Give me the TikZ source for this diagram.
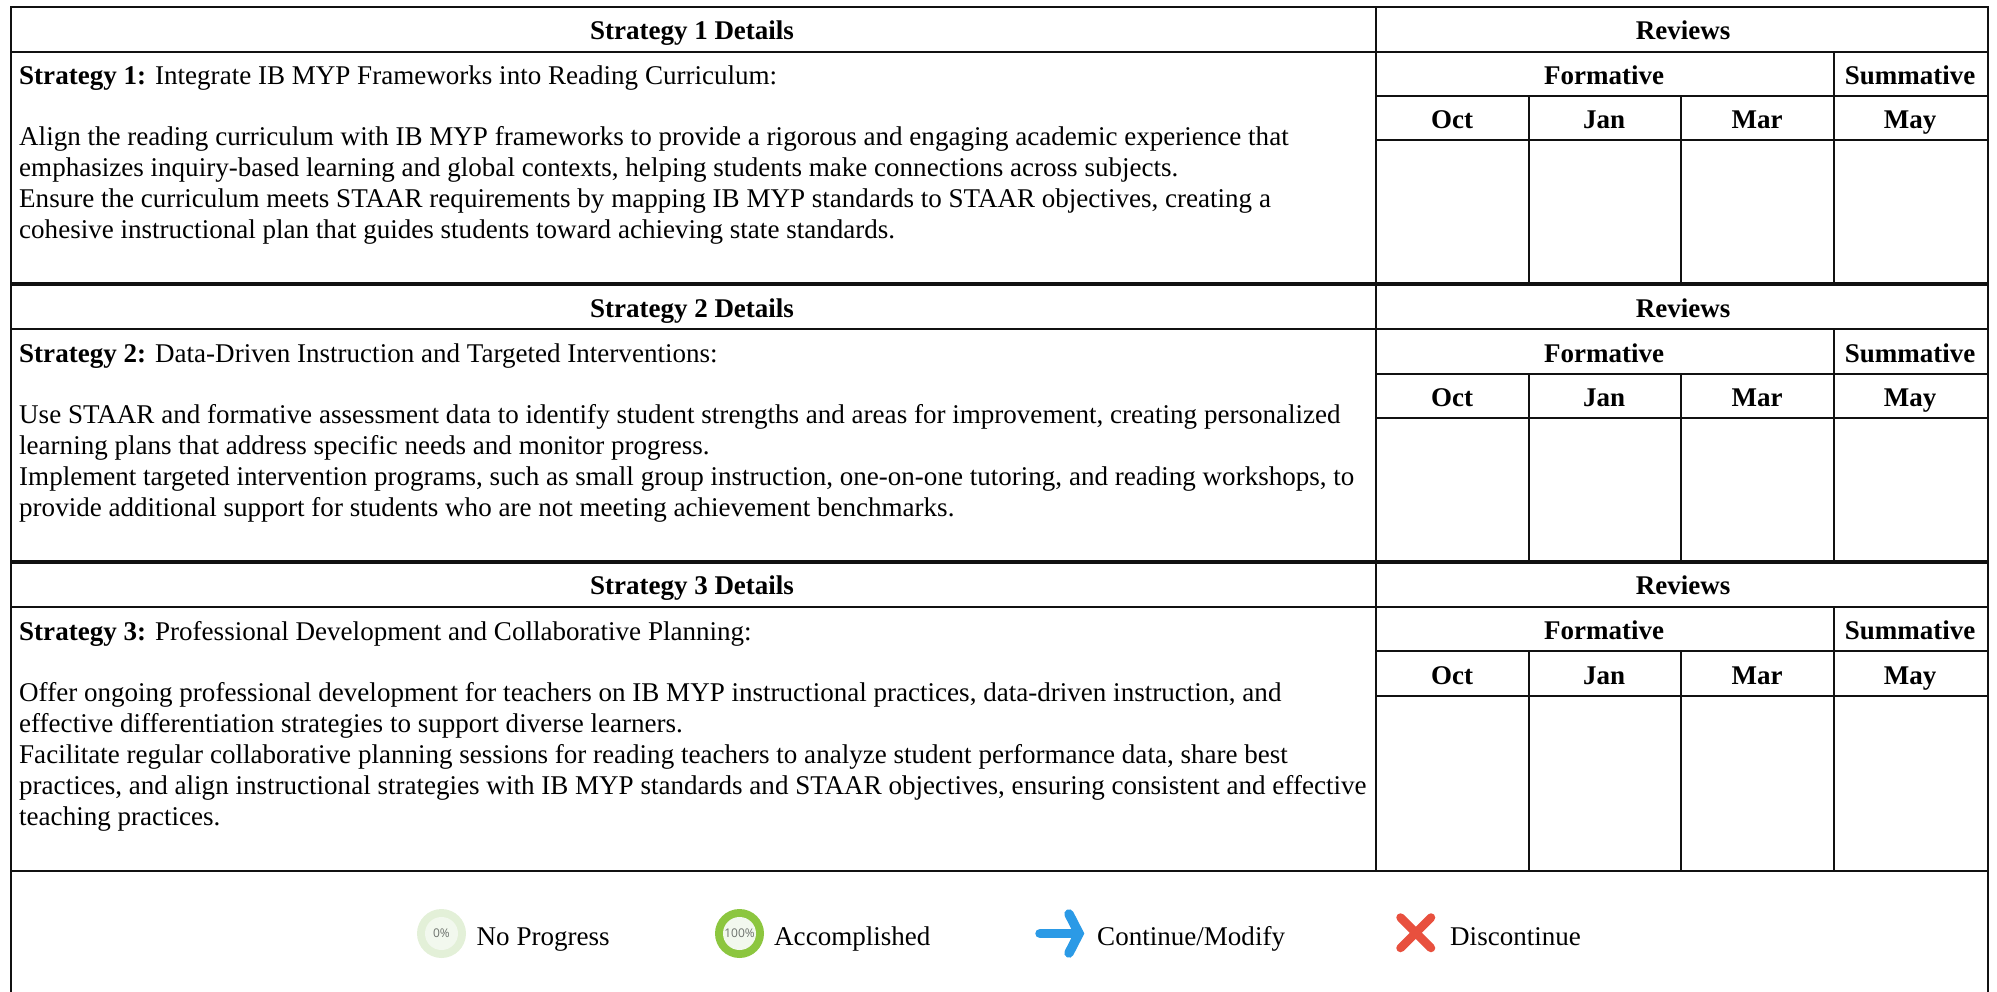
\documentclass[tikz,border=0pt]{standalone}
\usepackage{fontspec}
\setmainfont{Liberation Serif}
\newfontfamily\iconfont{Open Sans}
\definecolor{ruleblack}{HTML}{111111}
\definecolor{arrowblue}{HTML}{2B9AE6}
\definecolor{crossred}{HTML}{E8503E}
\definecolor{ringgreen}{HTML}{8CC63F}
\definecolor{ringpale}{HTML}{E3F0D8}
\definecolor{innerpale}{HTML}{F2F8EE}
\definecolor{icongrey}{HTML}{6E736E}
\tikzset{
  body/.style={anchor=base west,inner sep=0pt,font=\fontsize{27.05}{31}\selectfont},
  head/.style={anchor=base,inner sep=0pt,font=\fontsize{27}{31}\selectfont\bfseries},
  grid/.style={draw=ruleblack,line width=2pt},
  heavy/.style={draw=ruleblack,line width=4pt},
  pct/.style={inner sep=0pt,font=\iconfont\fontsize{12}{13}\selectfont,text=icongrey},
}
\begin{document}
\begin{tikzpicture}[x=1pt,y=-1pt]
\useasboundingbox (0,0) rectangle (1997,992);
% outer frame and legend separator
\draw[grid] (11,992) -- (11,7.5) -- (1988,7.5) -- (1988,992);
\draw[grid] (11,871) -- (1988,871);
% section rules and headers
\foreach \n/\o/\b in {1/0/284,2/277.5/284.5,3/555/316}{
  \begin{scope}[yshift=-\o pt]
  \draw[grid] (11,51.7) -- (1988,51.7);
  \draw[grid] (1376,96) -- (1988,96);
  \draw[grid] (1376,140.5) -- (1988,140.5);
  \draw[grid] (1376,7.5) -- (1376,\b);
  \draw[grid] (1834,51.7) -- (1834,\b);
  \draw[grid] (1528.5,96) -- (1528.5,\b);
  \draw[grid] (1681,96) -- (1681,\b);
  \node[head] (sd\n) at (692,39.5) {Strategy \n{} Details};
  \node[head] (rev\n) at (1683,39.5) {Reviews};
  \node[head] (form\n) at (1604,84.8) {Formative};
  \node[head] (summ\n) at (1910,84.8) {Summative};
  \node[head] (oct\n) at (1452,129) {Oct};
  \node[head] (jan\n) at (1604,129) {Jan};
  \node[head] (mar\n) at (1757,129) {Mar};
  \node[head] (may\n) at (1910,129) {May};
  \end{scope}
}
\draw[heavy] (11,284) -- (1988,284);
\draw[heavy] (11,562) -- (1988,562);
% strategy 1 text
\node[body] (s1t) at (19,84.5) {\textbf{Strategy 1:} Integrate IB MYP Frameworks into Reading Curriculum:};
\node[body] (s1a) at (19,145.3) {Align the reading curriculum with IB MYP frameworks to provide a rigorous and engaging academic experience that};
\node[body] (s1b) at (19,176.3) {emphasizes inquiry-based learning and global contexts, helping students make connections across subjects.};
\node[body] (s1c) at (19,207.3) {Ensure the curriculum meets STAAR requirements by mapping IB MYP standards to STAAR objectives, creating a};
\node[body] (s1d) at (19,238.3) {cohesive instructional plan that guides students toward achieving state standards.};
% strategy 2 text
\node[body] (s2t) at (19,362) {\textbf{Strategy 2:} Data-Driven Instruction and Targeted Interventions:};
\node[body] (s2a) at (19,423.3) {Use STAAR and formative assessment data to identify student strengths and areas for improvement, creating personalized};
\node[body] (s2b) at (19,454.3) {learning plans that address specific needs and monitor progress.};
\node[body] (s2c) at (19,485.3) {Implement targeted intervention programs, such as small group instruction, one-on-one tutoring, and reading workshops, to};
\node[body] (s2d) at (19,516.3) {provide additional support for students who are not meeting achievement benchmarks.};
% strategy 3 text
\node[body] (s3t) at (19,640) {\textbf{Strategy 3:} Professional Development and Collaborative Planning:};
\node[body] (s3a) at (19,701.3) {Offer ongoing professional development for teachers on IB MYP instructional practices, data-driven instruction, and};
\node[body] (s3b) at (19,732.3) {effective differentiation strategies to support diverse learners.};
\node[body] (s3c) at (19,763.3) {Facilitate regular collaborative planning sessions for reading teachers to analyze student performance data, share best};
\node[body] (s3d) at (19,794.3) {practices, and align instructional strategies with IB MYP standards and STAAR objectives, ensuring consistent and effective};
\node[body] (s3e) at (19,825.3) {teaching practices.};
% legend
\fill[ringpale] (441.5,933.5) circle (24.5);
\fill[innerpale] (441.5,933.5) circle (16.5);
\node[pct] (zero) at (441.5,933.5) {0\%};
\node[body] (np) at (476.5,945) {No Progress};
\fill[ringgreen] (739.5,933.5) circle (24.5);
\fill[innerpale] (739.5,933.5) circle (16.5);
\node[pct] (full) at (739.5,933.5) {100\%};
\node[body] (acc) at (774,945) {Accomplished};
\draw[arrowblue,line width=9.5pt,line cap=round,line join=miter] (1040,933.5) -- (1079,933.5);
\draw[arrowblue,line width=9.5pt,line cap=round,line join=miter] (1069,914) -- (1079,933.5) -- (1069,953);
\node[body] (cm) at (1097,945) {Continue/Modify};
\draw[crossred,line width=8.5pt,line cap=round] (1400.5,917.5) -- (1431,948);
\draw[crossred,line width=8.5pt,line cap=round] (1431,917.5) -- (1400.5,948);
\node[body] (dis) at (1450,945) {Discontinue};
\end{tikzpicture}
\end{document}
